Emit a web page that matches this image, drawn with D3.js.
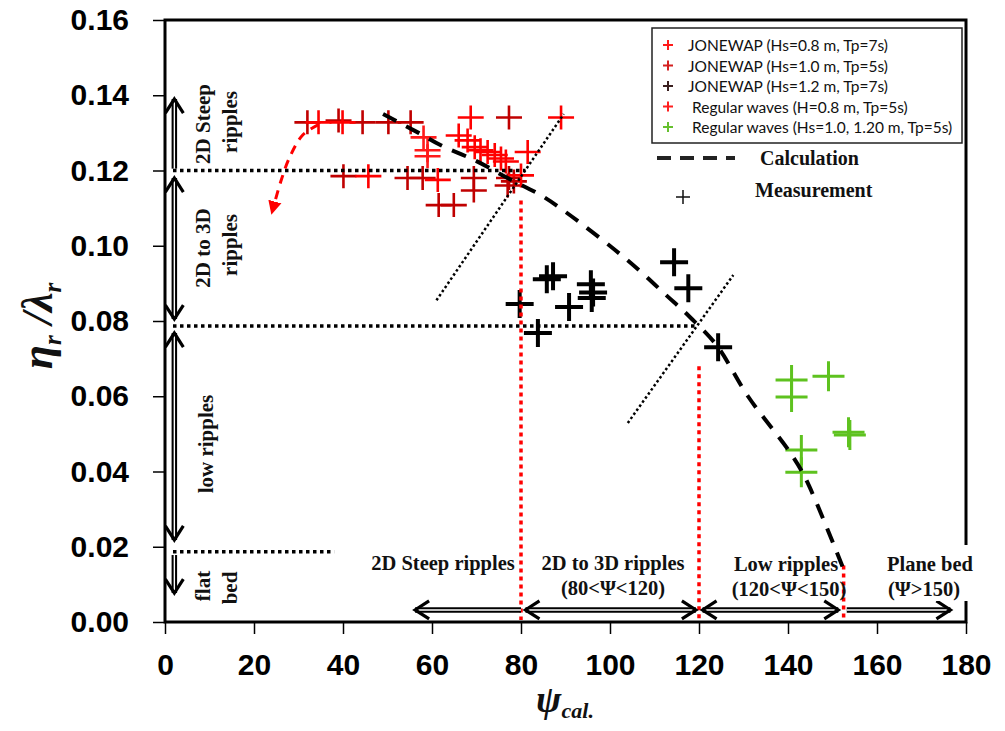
<!DOCTYPE html>
<html>
<head>
<meta charset="utf-8">
<script src="https://cdn.jsdelivr.net/npm/d3@7"></script>
<style>
  html, body { margin: 0; padding: 0; background: #fff; }
  svg { display: block; }
  .serif { font-family: "Liberation Serif", "Times New Roman", serif; font-weight: bold; fill: #111; }
  .tick text { font-family: "Liberation Sans Narrow", "Arial Narrow", "Liberation Sans", sans-serif; font-weight: bold; font-size: 30px; fill: #000; }
</style>
</head>
<body>
<script>
// ── ticks
const xTicks = [0, 20, 40, 60, 80, 100, 120, 140, 160, 180];
const yTicks = [0, 0.02, 0.04, 0.06, 0.08, 0.10, 0.12, 0.14, 0.16];

// ── measured points  [psi, eta/lambda]
const jonswap08 = [
  [34.5, 0.1328], [39.9, 0.1328], [68.7, 0.1341], [89.0, 0.1341], [68.0, 0.1280],
  [69.6, 0.1262], [70.9, 0.1254], [72.5, 0.1249], [74.1, 0.1241], [75.5, 0.1232],
  [76.6, 0.1224], [81.5, 0.1249], [66.0, 0.1293], [45.7, 0.1185], [61.3, 0.1175],
  [80.0, 0.1187]
];
const jonswap10 = [
  [32.0, 0.1328], [39.0, 0.1333], [44.4, 0.1328], [50.2, 0.1328], [55.2, 0.1328],
  [77.3, 0.1341], [40.1, 0.1185], [54.5, 0.1180], [57.9, 0.1180], [69.4, 0.1180],
  [77.3, 0.1180], [69.4, 0.1147], [77.0, 0.1160], [78.4, 0.1171], [61.5, 0.1108],
  [64.9, 0.1108]
];
const jonswap12 = [
  [79.7, 0.0845], [83.8, 0.0768], [85.8, 0.0911], [87.2, 0.0919], [90.8, 0.0837],
  [95.7, 0.0898], [96.2, 0.0876], [95.9, 0.0861], [114.4, 0.0956], [117.6, 0.0887],
  [124.3, 0.0730]
];
const regular08 = [[58.1, 0.1288], [59.0, 0.1254], [59.0, 0.1238]];
const regular10 = [
  [140.8, 0.0643], [140.8, 0.0598], [149.1, 0.0653], [153.6, 0.0504],
  [153.9, 0.0497], [143.0, 0.0457], [143.0, 0.0398]
];

// ── calculation curve
const calcCurve = [
  [49, 0.135], [57, 0.130], [62, 0.1267], [70, 0.1225], [77, 0.118], [84.5, 0.1134],
  [90, 0.109], [101, 0.099], [107, 0.093], [112.5, 0.087], [118, 0.081],
  [124, 0.0735], [131, 0.060], [140.5, 0.045], [144, 0.038], [153, 0.0125]
];
const redArrow = [[34.5, 0.1322], [31, 0.1295], [28, 0.1235], [26, 0.117], [24.3, 0.110]];

// ── regime boundaries
const hDotted = [[0, 81, 0.12], [0, 119, 0.0787], [0, 38, 0.0187]];
const diagDotted = [[[61, 0.0855], [89.6, 0.135]], [[104, 0.0529], [127.7, 0.0922]]];
const redDotted = [[80, 0.112], [120, 0.068], [152.5, 0.015]];

// vertical arrows on the left: [from, to, headFrom, headTo]
const vArrows = [[0.1205, 0.139, false, true], [0.118, 0.0805, true, true],
                 [0.0768, 0.0218, true, true], [0.0178, 0.0077, false, true]];
// horizontal arrows at the bottom
const hArrows = [[80, 56.2, false, true], [81, 119.3, true, true],
                 [120.8, 151.3, true, true], [153.2, 176.5, false, true]];

const W = 1005, H = 731;
const x = d3.scaleLinear().domain([0, 180]).range([165, 966]);
const y = d3.scaleLinear().domain([0, 0.16]).range([622, 20]);

const svg = d3.select('body').append('svg').attr('width', W).attr('height', H);

// axes
svg.append('g').attr('transform', 'translate(0,622)')
  .call(d3.axisBottom(x).tickValues(xTicks).tickSize(12).tickPadding(20).tickFormat(d3.format('d')))
  .call(g => g.select('.domain').remove())
  .call(g => g.selectAll('.tick line').attr('stroke', '#000').attr('stroke-width', 1.5));

svg.append('g').attr('transform', 'translate(165,0)')
  .call(d3.axisLeft(y).tickValues(yTicks).tickSize(12).tickPadding(24).tickFormat(d3.format('.2f')))
  .call(g => g.select('.domain').remove())
  .call(g => g.selectAll('.tick line').attr('stroke', '#000').attr('stroke-width', 1.5));

// frame
svg.append('rect').attr('x', 165).attr('y', 20).attr('width', 801).attr('height', 602)
  .attr('fill', 'none').attr('stroke', '#000').attr('stroke-width', 3);

// markers
function plus(sel, data, color, w, h, sw) {
  sel.selectAll(null).data(data).join('path')
    .attr('d', d => `M${x(d[0]) - w},${y(d[1])}H${x(d[0]) + w}M${x(d[0])},${y(d[1]) - h}V${y(d[1]) + h}`)
    .attr('stroke', color).attr('stroke-width', sw).attr('fill', 'none');
}
const marks = svg.append('g');
plus(marks, jonswap10, '#c00000', 13, 12, 2.6);
plus(marks, jonswap08, '#ff0000', 13, 12, 2.6);
plus(marks, regular08, '#ff1a1a', 13, 12, 2.6);
plus(marks, jonswap12, '#000', 14, 14, 4);
plus(marks, regular10, '#5ec21f', 16, 15, 3);

// dotted boundaries
const lines = svg.append('g');
lines.selectAll(null).data(hDotted).join('line')
  .attr('x1', d => x(d[0]) + 8).attr('x2', d => x(d[1])).attr('y1', d => y(d[2])).attr('y2', d => y(d[2]))
  .attr('stroke', '#000').attr('stroke-width', 3.5).attr('stroke-dasharray', '3.5,3.5');
lines.selectAll(null).data(diagDotted).join('line')
  .attr('x1', d => x(d[0][0])).attr('y1', d => y(d[0][1])).attr('x2', d => x(d[1][0])).attr('y2', d => y(d[1][1]))
  .attr('stroke', '#000').attr('stroke-width', 2.5).attr('stroke-dasharray', '2.5,2.5');
lines.selectAll(null).data(redDotted).join('line')
  .attr('x1', d => x(d[0])).attr('x2', d => x(d[0])).attr('y1', d => y(d[1])).attr('y2', 620)
  .attr('stroke', '#ff0000').attr('stroke-width', 3.5).attr('stroke-dasharray', '4,4');

// calculation curve
const line = d3.line().x(d => x(d[0])).y(d => y(d[1])).curve(d3.curveCatmullRom);
svg.append('path').datum(calcCurve).attr('d', line)
  .attr('fill', 'none').attr('stroke', '#000').attr('stroke-width', 4).attr('stroke-dasharray', '15,11');

// red dashed arrow
svg.append('defs').append('marker').attr('id', 'tri').attr('viewBox', '0 0 10 10')
  .attr('refX', 5).attr('refY', 5).attr('markerWidth', 4.5).attr('markerHeight', 6)
  .attr('markerUnits', 'strokeWidth').attr('orient', 'auto')
  .append('path').attr('d', 'M0,0L10,5L0,10Z').attr('fill', '#ff0000');
svg.append('path').datum(redArrow).attr('d', line)
  .attr('fill', 'none').attr('stroke', '#ff0000').attr('stroke-width', 3).attr('stroke-dasharray', '9,7')
  .attr('marker-end', 'url(#tri)');

// double-line arrows
function dblArrow(x1, y1, x2, y2, h1, h2) {
  const g = svg.append('g');
  g.append('line').attr('x1', x1).attr('y1', y1).attr('x2', x2).attr('y2', y2)
    .attr('stroke', '#000').attr('stroke-width', 5.5);
  g.append('line').attr('x1', x1).attr('y1', y1).attr('x2', x2).attr('y2', y2)
    .attr('stroke', '#fff').attr('stroke-width', 1.4);
  const len = Math.hypot(x2 - x1, y2 - y1), ux = (x2 - x1) / len, uy = (y2 - y1) / len;
  const head = (px, py, dx, dy) => {
    const bx = px - dx * 14, by = py - dy * 14;
    g.append('path')
      .attr('d', `M${bx - dy * 9},${by + dx * 9}L${px},${py}L${bx + dy * 9},${by - dx * 9}`)
      .attr('fill', 'none').attr('stroke', '#000').attr('stroke-width', 3.2);
  };
  if (h1) head(x1, y1, -ux, -uy);
  if (h2) head(x2, y2, ux, uy);
}
vArrows.forEach(a => dblArrow(x(2.1), y(a[0]), x(2.1), y(a[1]), a[2], a[3]));
hArrows.forEach(a => dblArrow(x(a[0]), y(0.0032), x(a[1]), y(0.0032), a[2], a[3]));

// white patch behind "Plane bed" on the right border
svg.append('rect').attr('x', 884).attr('y', 545).attr('width', 96).attr('height', 56).attr('fill', '#fff');

// regime labels
function label(txt, cx, cy, size, rot) {
  svg.append('text').attr('class', 'serif')
    .attr('transform', `translate(${cx},${cy})` + (rot ? ' rotate(-90)' : ''))
    .attr('text-anchor', 'middle').attr('dominant-baseline', 'central')
    .attr('font-size', size).text(txt);
}
label('2D Steep', 203, 124, 21, true);
label('ripples', 230, 122, 21, true);
label('2D to 3D', 203, 248, 21, true);
label('ripples', 230, 245, 21, true);
label('low ripples', 206, 444, 21, true);
label('flat', 203, 586, 21, true);
label('bed', 230, 588, 21, true);

label('2D Steep ripples', 443, 563, 20.5, false);
label('2D to 3D ripples', 613, 563, 20.5, false);
label('(80<\u03A8<120)', 613, 588, 20.5, false);
label('Low  ripples', 786, 564, 20.5, false);
label('(120<\u03A8<150)', 789, 589, 20.5, false);
label('Plane bed', 930, 564, 20.5, false);
label('(\u03A8>150)', 924, 589, 20.5, false);

// legend
const legendRows = [
  ['JONEWAP (Hs=0.8 m, Tp=7s)', '#ff1a1a', 688],
  ['JONEWAP (Hs=1.0 m, Tp=5s)', '#d42020', 688],
  ['JONEWAP (Hs=1.2 m, Tp=7s)', '#3a1f1f', 688],
  ['Regular waves (H=0.8 m, Tp=5s)', '#ff2020', 692],
  ['Regular waves (Hs=1.0, 1.20 m, Tp=5s)', '#66c02e', 692]
];
const lg = svg.append('g');
lg.append('rect').attr('x', 652).attr('y', 28).attr('width', 310).attr('height', 115)
  .attr('fill', '#fff').attr('stroke', '#222').attr('stroke-width', 1.5);
legendRows.forEach((r, i) => {
  const cy = 45 + i * 20.5;
  lg.append('path').attr('d', `M663,${cy}H673M668,${cy - 5}V${cy + 5}`)
    .attr('stroke', r[1]).attr('stroke-width', 2);
  lg.append('text').attr('x', r[2]).attr('y', cy).attr('dominant-baseline', 'central')
    .attr('font-family', 'Lato, "Open Sans", sans-serif').attr('font-size', 15.5).attr('fill', '#111')
    .text(r[0]);
});
lg.append('line').attr('x1', 657).attr('x2', 735).attr('y1', 158).attr('y2', 158)
  .attr('stroke', '#222').attr('stroke-width', 4).attr('stroke-dasharray', '14,9');
lg.append('text').attr('class', 'serif').attr('x', 760).attr('y', 158).attr('dominant-baseline', 'central')
  .attr('font-size', 20).text('Calculation');
lg.append('path').attr('d', 'M676,197H690M683,190V204').attr('stroke', '#111').attr('stroke-width', 1.5);
lg.append('text').attr('class', 'serif').attr('x', 755).attr('y', 190).attr('dominant-baseline', 'central')
  .attr('font-size', 20).text('Measurement');

// axis titles
const yt = svg.append('text').attr('class', 'serif').attr('font-style', 'italic')
  .attr('transform', 'translate(52,326) rotate(-90)').attr('text-anchor', 'middle').attr('font-size', 44);
yt.append('tspan').text('\u03B7');
yt.append('tspan').attr('font-size', 25).attr('dy', 9).text('r');
yt.append('tspan').attr('dy', -9).text(' /\u03BB');
yt.append('tspan').attr('font-size', 25).attr('dy', 9).text('r');

const xt = svg.append('text').attr('class', 'serif').attr('font-style', 'italic').attr('font-weight', 'normal')
  .attr('x', 565).attr('y', 712).attr('text-anchor', 'middle').attr('font-size', 38);
xt.append('tspan').text('\u03C8');
xt.append('tspan').attr('font-size', 22).attr('dy', 6).text('cal.');
</script>
</body>
</html>
